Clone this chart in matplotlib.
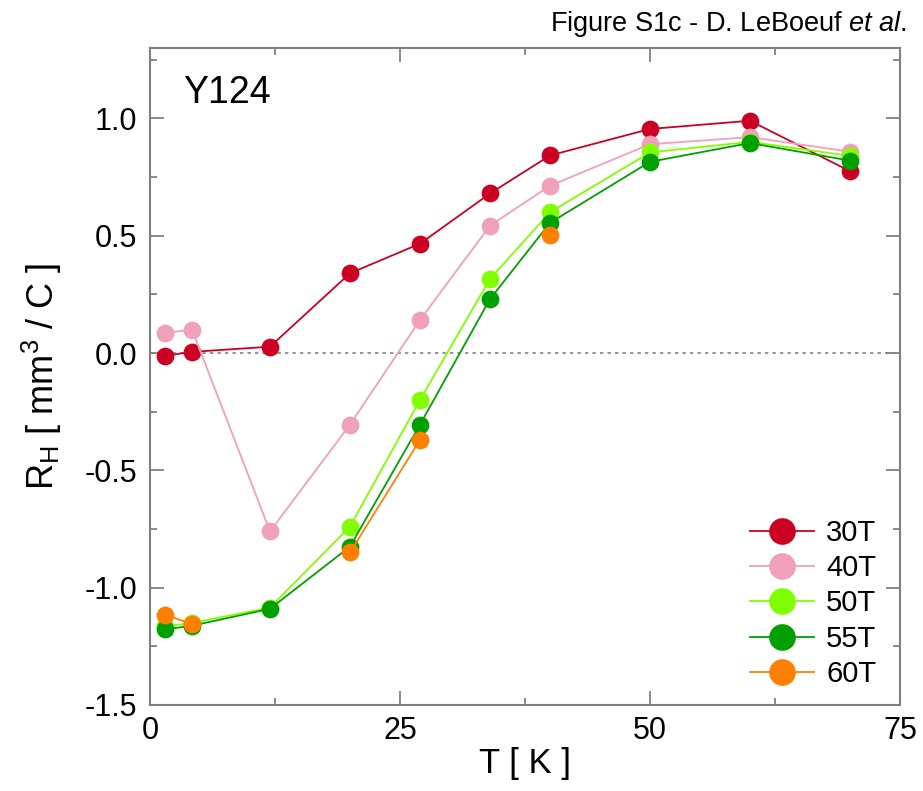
import numpy as np
import matplotlib
matplotlib.use("Agg")
import matplotlib.pyplot as plt
from matplotlib.ticker import MultipleLocator

plt.rcParams['font.family'] = ['Liberation Sans', 'DejaVu Sans']
plt.rcParams['mathtext.fontset'] = 'custom'
plt.rcParams['mathtext.rm'] = 'Liberation Sans'
plt.rcParams['mathtext.it'] = 'Liberation Sans:italic'

T = [1.5, 4.2, 12, 20, 27, 34, 40, 50, 60, 70]
nan = np.nan
rh_30T = [-0.012, 0.005, 0.027, 0.34, 0.466, 0.68, 0.842, 0.955, 0.99, 0.775]
rh_40T = [0.085, 0.10, -0.76, -0.305, 0.141, 0.543, 0.713, 0.89, 0.92, 0.858]
rh_50T = [-1.165, -1.15, -1.085, -0.74, -0.20, 0.316, 0.60, 0.855, 0.90, 0.84]
rh_55T = [-1.178, -1.162, -1.09, -0.825, -0.305, 0.23, 0.555, 0.815, 0.895, 0.82]
rh_60T = [-1.115, -1.155, nan, -0.85, -0.37, nan, 0.505, nan, nan, nan]

labels = ['30T', '40T', '50T', '55T', '60T']
colors = ['#CC0022', '#F0A0B8', '#80FF00', '#00A000', '#FF8000']
series = [rh_30T, rh_40T, rh_50T, rh_55T, rh_60T]

fig = plt.figure(figsize=(9.23, 7.91), dpi=100)
ax = fig.add_axes([150/923, 1-705/791, 750/923, (705-48)/791])

ax.axhline(0, color='#808080', lw=1.2, ls=(0, (2, 2.5)), zorder=1)
for y, c, lab in zip(series, colors, labels):
    ax.plot(T, y, '-o', color=c, lw=1.3, ms=12.8, markeredgewidth=0, label=lab, zorder=3)

ax.set_xlim(0, 75)
ax.set_ylim(-1.5, 1.3)
ax.xaxis.set_major_locator(MultipleLocator(25))
ax.xaxis.set_minor_locator(MultipleLocator(12.5))
ax.yaxis.set_major_locator(MultipleLocator(0.5))
ax.yaxis.set_minor_locator(MultipleLocator(0.25))
ax.yaxis.set_major_formatter(matplotlib.ticker.FormatStrFormatter('%.1f'))

for s in ax.spines.values():
    s.set_color('#808080')
    s.set_linewidth(1.5)
ax.tick_params(which='both', direction='in', top=True, right=True, color='#808080', width=1.3)
ax.tick_params(which='major', length=10)
ax.tick_params(which='minor', length=5)
ax.tick_params(axis='y', labelsize=22, pad=9)
ax.tick_params(axis='x', labelsize=22, pad=8)

ax.set_xlabel('T [ K ]', fontsize=25, family=['Liberation Sans Narrow', 'Liberation Sans'], labelpad=1)
ax.set_ylabel(r'R$_\mathregular{H}$ [ mm$^\mathregular{3}$ / C ]', fontsize=26, labelpad=15)

ax.text(33/750, (705-103)/657, 'Y124', transform=ax.transAxes, fontsize=27, ha='left', va='baseline')
fig.text(907/923, 1-31/791, 'Figure S1c - D. LeBoeuf $\\mathit{et\\ al.}$', fontsize=19.5, ha='right', va='baseline')

leg = ax.legend(loc='lower right', bbox_to_anchor=(0.984, 0.008), frameon=False, fontsize=21,
                markerscale=1.5, handlelength=2.2, handletextpad=0.4, labelspacing=0.25,
                borderaxespad=0.0)

fig.savefig('out.png', dpi=100)
